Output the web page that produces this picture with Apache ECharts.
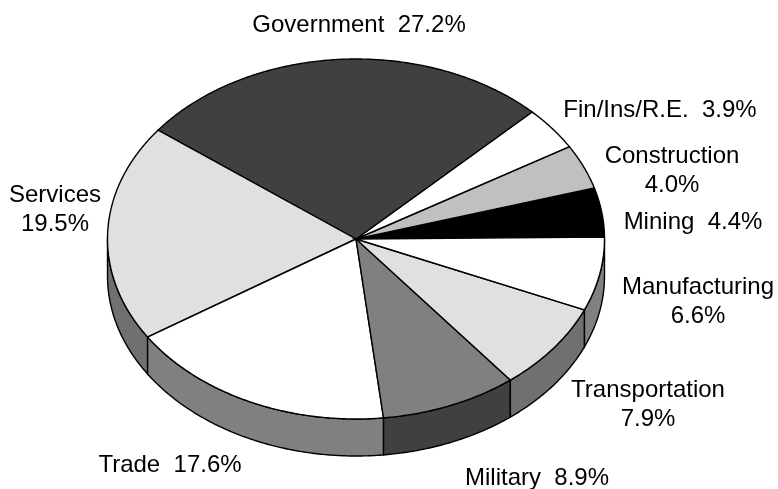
<!DOCTYPE html>
<html>
<head>
<meta charset="utf-8">
<style>
html, body { margin: 0; padding: 0; background: #fff; }
#chart { width: 778px; height: 489px; }
</style>
<script src="https://cdn.jsdelivr.net/npm/echarts@6/dist/echarts.min.js"></script>
</head>
<body>
<div id="chart"></div>
<script>
// slices, anticlockwise from 3 o'clock
var categories = ["Mining", "Construction", "Fin/Ins/R.E.", "Government", "Services", "Trade", "Military", "Transportation", "Manufacturing"];
var shares = [4.4, 4.0, 3.9, 27.2, 19.5, 17.6, 8.9, 7.9, 6.6];

// styles, same order as categories
var topColors = ["#000000", "#c0c0c0", "#ffffff", "#404040", "#e0e0e0", "#ffffff", "#808080", "#e0e0e0", "#ffffff"];
var sideColors = ["#000000", "#606060", "#808080", "#202020", "#707070", "#808080", "#404040", "#707070", "#808080"];

// label centres, and whether the share goes on its own line
var labelX = [693, 672, 660, 359, 55, 170, 537, 648, 698];
var labelY = [222, 171, 110, 25, 210, 465, 478, 405, 302];
var labelBreak = [false, true, false, false, true, false, false, true, true];

var cx = 356, cy = 239, rx = 248.5, ry = 180, depth = 37;
var startDeg = 0.6;

function pointAt(deg, dy) {
    var a = deg * Math.PI / 180;
    return [cx + rx * Math.cos(a), cy - ry * Math.sin(a) + (dy || 0)];
}

function arc(from, to, dy) {
    var pts = [];
    var n = Math.max(2, Math.ceil(Math.abs(to - from) * 2));
    for (var i = 0; i <= n; i++) {
        pts.push(pointAt(from + (to - from) * i / n, dy));
    }
    return pts;
}

// start and end angle of a slice
function sliceRange(index) {
    var total = shares.reduce(function (s, v) { return s + v; }, 0);
    var before = 0;
    for (var i = 0; i < index; i++) {
        before += shares[i];
    }
    return [startDeg + before / total * 360, startDeg + (before + shares[index]) / total * 360];
}

function renderSide(params, api) {
    var range = sliceRange(params.dataIndex);
    // only the front half of the rim shows
    var from = Math.max(range[0], 180);
    var to = Math.min(range[1], 360);
    if (to <= from) {
        return null;
    }
    var pts = arc(from, to, 0).concat(arc(to, from, depth));
    return {
        type: "polygon",
        shape: { points: pts },
        style: { fill: sideColors[params.dataIndex], stroke: "#000", lineWidth: 1.4 }
    };
}

function renderTop(params, api) {
    var range = sliceRange(params.dataIndex);
    var pts = [[cx, cy]].concat(arc(range[0], range[1], 0));
    return {
        type: "polygon",
        shape: { points: pts },
        style: { fill: topColors[params.dataIndex], stroke: "#000", lineWidth: 1.4, lineJoin: "miter" }
    };
}

function renderLabel(params, api) {
    var i = params.dataIndex;
    var text = categories[i] + (labelBreak[i] ? "\n" : "  ") + api.value(0).toFixed(1) + "%";
    return {
        type: "text",
        x: labelX[i],
        y: labelY[i],
        style: {
            text: text,
            align: "center",
            verticalAlign: "middle",
            fill: "#000",
            font: "24px 'Liberation Sans'",
            lineHeight: 29
        }
    };
}

var mychart = echarts.init(document.getElementById("chart"));
var option = {
    animation: false,
    backgroundColor: "#fff",
    series: [
        { type: "custom", coordinateSystem: "none", silent: true, data: shares, renderItem: renderSide },
        { type: "custom", coordinateSystem: "none", silent: true, data: shares, renderItem: renderTop },
        { type: "custom", coordinateSystem: "none", silent: true, data: shares, renderItem: renderLabel }
    ]
};
mychart.setOption(option);
</script>
</body>
</html>
